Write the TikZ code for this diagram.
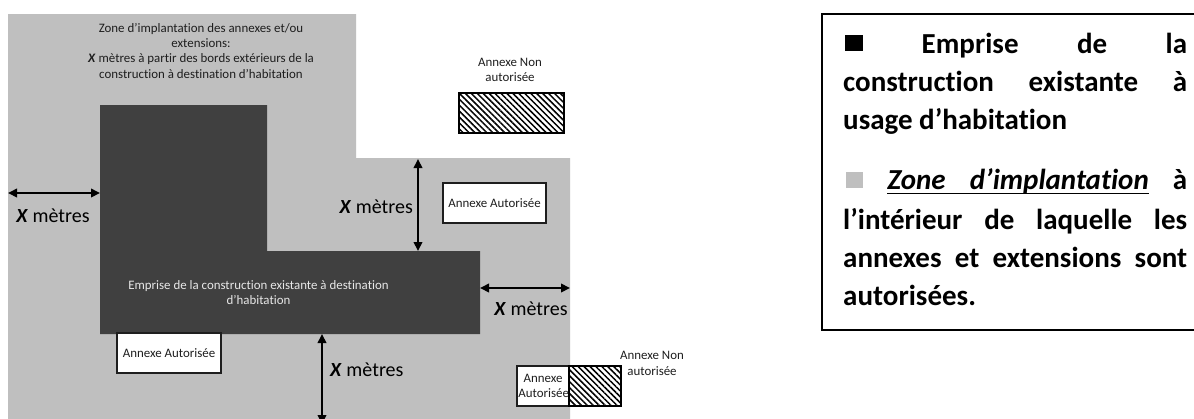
\documentclass[tikz,border=0pt]{standalone}
\usepackage{fontspec}
\setmainfont{Carlito}[Ligatures={NoCommon}]
\usetikzlibrary{arrows.meta,patterns.meta}
\definecolor{zonegrey}{HTML}{BFBFBF}
\definecolor{darkbuild}{HTML}{404040}
\definecolor{textlight}{HTML}{E8E8E8}
\definecolor{textdark}{HTML}{1E1E1E}
\newsavebox\myulbox
\newcommand\myul[1]{\sbox\myulbox{#1}\rlap{\usebox\myulbox}\leaders\hrule height -3.8pt depth 5.3pt\hskip\wd\myulbox\relax}
\newcommand\myulspace{\leaders\hrule height -3.8pt depth 5.3pt\hskip\fontdimen2\font plus \fontdimen3\font\relax}
\tikzset{
  smalltext/.style={inner sep=0pt, text=textdark, font=\fontsize{12.9}{15.4}\selectfont},
  lighttext/.style={inner sep=0pt, text=textlight, font=\fontsize{12.9}{15.4}\selectfont},
  metres/.style={inner sep=0pt, text=black, font=\fontsize{20}{24}\selectfont},
  annexe/.style={draw=textdark, line width=1.1pt, fill=white, inner sep=0pt, text=textdark,
     font=\fontsize{12.9}{15.4}\selectfont, align=center},
  hatchbox/.style={draw=black, line width=1.1pt, inner sep=0pt,
     pattern={Lines[angle=-45,distance=4.2pt,line width=1.5pt]}, pattern color=black},
  dim/.style={line width=2pt, draw=black,
     {Triangle[length=9pt,width=8.5pt]}-{Triangle[length=9pt,width=8.5pt]}},
  legtext/.style={anchor=base west, inner sep=0pt, text=black,
     font=\fontsize{29}{38}\selectfont\bfseries},
  legframe/.style={draw=black, line width=1.6pt}
}
\begin{document}
\begin{tikzpicture}[x=1pt,y=-1pt]
\useasboundingbox (0,0) rectangle (1194,418);
\clip (0,0) rectangle (1194,418);
\fill[white] (0,0) rectangle (1194,418);

% zone d'implantation
\fill[zonegrey] (8,14) -- (356,14) -- (356,158) -- (570,158) -- (570,430) -- (8,430) -- cycle;
% emprise de la construction
\fill[darkbuild] (100,105) -- (267,105) -- (267,251) -- (480,251) -- (480,334) -- (100,334) -- cycle;

% top zone text
\node[smalltext, anchor=base] (zt1) at (201,32) {Zone d’implantation des annexes et/ou};
\node[smalltext, anchor=base] (zt2) at (201,47.3) {extensions:};
\node[smalltext, anchor=base] (zt3) at (201,62.6) {\textbf{\textit{X}} mètres à partir des bords extérieurs de la};
\node[smalltext, anchor=base] (zt4) at (201,78) {construction à destination d’habitation};

% building text
\node[lighttext, anchor=base] (bt1) at (258.5,289) {Emprise de la construction existante à destination};
\node[lighttext, anchor=base] (bt2) at (258.5,304) {d’habitation};

% annexes
\node[annexe, minimum width=103pt, minimum height=40pt] (a1) at (494.5,203) {Annexe Autorisée};
\node[annexe, minimum width=104pt, minimum height=40pt] (a2) at (169,353) {Annexe Autorisée};
\node[annexe, minimum width=52pt, minimum height=40pt] (a3) at (543,386) {Annexe\\[-0.6pt]\hspace*{1.5pt}Autorisée};
\node[hatchbox, minimum width=105pt, minimum height=40pt] (h1) at (511.5,113) {};
\node[hatchbox, minimum width=52pt, minimum height=40pt] (h2) at (595,386) {};
\node[smalltext, anchor=base] (n1a) at (510,66.5) {Annexe Non};
\node[smalltext, anchor=base] (n1b) at (510,81.5) {autorisée};
\node[smalltext, anchor=base] (n2a) at (652,359) {Annexe Non};
\node[smalltext, anchor=base] (n2b) at (652,375) {autorisée};

% dimension arrows
\coordinate (lA) at (8,193);   \coordinate (lB) at (100,193);
\coordinate (uA) at (418,159); \coordinate (uB) at (418,251);
\coordinate (rA) at (480,288); \coordinate (rB) at (570,288);
\coordinate (bA) at (322,334); \coordinate (bB) at (322,424);
\draw[dim] (lA) -- (lB);
\draw[dim] (uA) -- (uB);
\draw[dim] (rA) -- (rB);
\draw[dim] (bA) -- (bB);
\node[metres, anchor=base] (m1) at (53,222) {\textbf{\textit{X}} mètres};
\node[metres, anchor=base east] (m2) at (413,213) {\textbf{\textit{X}} mètres};
\node[metres, anchor=base] (m3) at (531,315) {\textbf{\textit{X}} mètres};
\node[metres, anchor=base west] (m4) at (330,376) {\textbf{\textit{X}} mètres};

% legend
\draw[legframe] (1200,14) -- (822,14) -- (822,330) -- (1200,330);
\node[legtext] (g1) at (843,53) {\makebox[344pt][s]{\hspace*{2pt}\raisebox{2pt}{\rule{18pt}{16pt}} Emprise de la}};
\node[legtext] (g2) at (843,91) {\makebox[344pt][s]{construction existante à}};
\node[legtext] (g3) at (843,129) {usage d’habitation};
\node[legtext] (g4) at (843,189) {\makebox[344pt][s]{\hspace*{3pt}\textcolor{zonegrey}{\raisebox{1pt}{\rule{17pt}{16pt}}} \itshape\myul{Zone}\myulspace\myul{d’implantation}\upshape{} à}};
\node[legtext] (g5) at (843,229) {\makebox[344pt][s]{l’intérieur de laquelle les}};
\node[legtext] (g6) at (843,267) {\makebox[344pt][s]{annexes et extensions sont}};
\node[legtext] (g7) at (843,305) {autorisées.};
\end{tikzpicture}
\end{document}
